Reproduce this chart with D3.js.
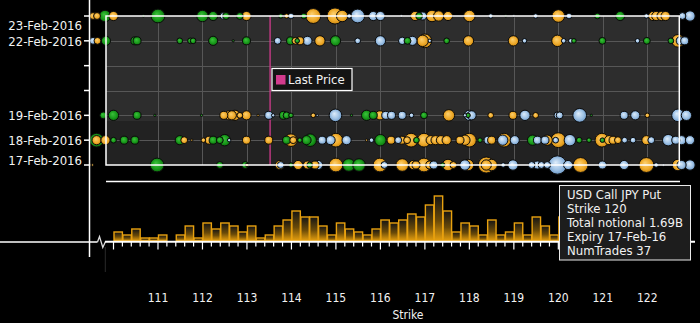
<!DOCTYPE html>
<html><head><meta charset="utf-8">
<script src="https://cdn.jsdelivr.net/npm/d3@7"></script>
<style>
body{margin:0;background:#000;}
svg{display:block;}
text{font-family:"DejaVu Sans Condensed","DejaVu Sans",sans-serif;font-stretch:condensed;fill:#f2f2f2;}
</style>
</head><body>
<svg id="chart" width="700" height="323"></svg>
<script>
// ---------------- DATA ----------------
const dateLabels = ["23-Feb-2016","22-Feb-2016","19-Feb-2016","18-Feb-2016","17-Feb-2016"];
const dayTicks = ["17-Feb-2016","18-Feb-2016","19-Feb-2016","20-Feb-2016","21-Feb-2016","22-Feb-2016","23-Feb-2016"];
const strikeTicks = [111,112,113,114,115,116,117,118,119,120,121,122];
const lastPrice = 113.52;
const legendLabel = "Last Price";
const xTitle = "Strike";
const tooltipLines = ["USD Call JPY Put","Strike 120","Total notional 1.69B","Expiry 17-Feb-16","NumTrades 37"];

// trades: [strike, notional (USD m), type]  o = USD Put JPY Call, b = USD Call JPY Put, g = other
const trades23 = [[109.54,238,"o"],[109.63,238,"o"],[109.81,660,"g"],[110.00,423,"o"],[110.67,26,"g"],[111.00,951,"g"],[112.00,660,"g"],[112.24,423,"g"],[112.47,238,"b"],[112.53,238,"g"],[112.84,238,"g"],[112.99,423,"o"],[113.76,106,"g"],[113.89,106,"o"],[113.99,165,"b"],[114.28,165,"g"],[114.49,1116,"o"],[114.98,1294,"o"],[115.14,660,"o"],[115.30,106,"b"],[115.49,951,"b"],[115.84,423,"b"],[116.00,423,"b"],[116.47,26,"b"],[116.78,423,"o"],[116.87,238,"g"],[116.95,323,"b"],[117.16,660,"o"],[117.31,535,"o"],[117.52,423,"o"],[118.00,660,"o"],[118.48,106,"b"],[118.82,26,"g"],[119.00,26,"b"],[119.49,106,"b"],[120.00,799,"o"],[120.24,165,"b"],[120.88,165,"g"],[121.39,423,"g"],[121.98,106,"b"],[122.13,423,"o"],[122.20,423,"o"],[122.32,423,"o"],[122.41,423,"o"],[122.79,238,"b"],[122.96,535,"b"]];
const trades22 = [[109.54,238,"b"],[109.64,238,"o"],[109.83,423,"g"],[110.48,323,"g"],[110.53,323,"g"],[111.49,165,"g"],[111.73,165,"g"],[111.79,165,"g"],[112.24,423,"g"],[112.69,26,"g"],[112.99,323,"g"],[113.69,238,"b"],[113.98,323,"g"],[114.09,238,"o"],[114.13,106,"g"],[114.19,323,"o"],[114.36,423,"b"],[114.64,535,"o"],[114.99,535,"g"],[115.49,165,"b"],[116.00,535,"b"],[116.49,280,"b"],[116.61,238,"g"],[116.72,423,"b"],[117.00,951,"o"],[116.95,660,"o"],[117.11,59,"b"],[117.49,165,"g"],[117.98,535,"o"],[118.99,535,"o"],[119.24,106,"b"],[119.98,660,"o"],[120.12,106,"b"],[120.28,106,"b"],[120.35,106,"g"],[120.99,238,"g"],[121.78,106,"b"],[121.99,238,"g"],[122.53,165,"g"],[122.69,799,"o"],[122.74,323,"b"],[122.84,323,"b"]];
const trades19 = [[109.77,238,"g"],[110.00,535,"g"],[110.53,323,"g"],[110.93,26,"g"],[111.98,26,"g"],[112.48,323,"o"],[112.60,423,"o"],[112.66,423,"o"],[112.73,535,"o"],[112.84,165,"o"],[112.99,423,"o"],[113.25,26,"o"],[113.49,323,"b"],[113.59,59,"b"],[113.82,323,"g"],[113.89,238,"g"],[113.99,106,"g"],[114.49,106,"o"],[114.58,26,"b"],[114.99,799,"b"],[115.35,26,"g"],[115.69,535,"g"],[115.84,323,"g"],[115.99,423,"o"],[116.12,323,"b"],[116.25,323,"b"],[116.49,323,"b"],[116.70,106,"b"],[116.98,238,"g"],[117.54,660,"o"],[117.90,59,"b"],[118.00,535,"b"],[117.97,106,"g"],[118.05,423,"b"],[118.48,165,"o"],[118.98,323,"o"],[119.25,535,"b"],[119.49,165,"o"],[119.98,238,"b"],[120.03,238,"b"],[120.48,951,"b"],[120.74,26,"g"],[121.48,323,"b"],[121.73,423,"b"],[122.00,106,"o"],[122.69,799,"b"],[122.88,535,"b"]];
const trades18 = [[109.62,951,"g"],[109.62,423,"o"],[109.82,423,"o"],[110.00,165,"g"],[110.24,323,"g"],[110.48,323,"g"],[111.49,423,"g"],[111.59,238,"o"],[111.76,26,"o"],[112.02,106,"o"],[112.15,323,"o"],[112.24,323,"g"],[112.39,238,"g"],[112.50,660,"g"],[112.60,59,"b"],[112.99,323,"o"],[113.49,323,"o"],[113.89,323,"g"],[113.99,799,"o"],[114.04,238,"o"],[114.19,106,"g"],[114.34,423,"g"],[114.42,799,"g"],[114.69,323,"b"],[114.88,423,"b"],[115.00,951,"o"],[115.24,423,"b"],[115.69,26,"o"],[115.80,106,"b"],[116.00,660,"g"],[116.24,323,"o"],[116.40,238,"b"],[116.48,323,"o"],[116.60,238,"o"],[116.69,951,"o"],[116.81,165,"g"],[116.98,951,"o"],[117.13,423,"o"],[117.24,423,"o"],[117.36,423,"o"],[117.49,423,"o"],[117.79,323,"o"],[117.90,535,"o"],[118.00,951,"o"],[118.24,106,"g"],[118.42,323,"b"],[118.50,323,"o"],[118.78,951,"o"],[118.75,535,"b"],[119.02,423,"b"],[119.42,535,"g"],[119.53,323,"b"],[119.70,323,"b"],[119.75,535,"o"],[119.94,165,"b"],[120.00,1116,"o"],[120.26,660,"b"],[120.47,165,"g"],[120.69,106,"g"],[120.98,951,"o"],[120.99,106,"g"],[121.14,423,"o"],[121.23,323,"o"],[121.34,238,"o"],[121.49,165,"b"],[121.68,165,"b"],[121.98,423,"o"],[122.09,238,"b"],[122.47,660,"b"],[122.64,323,"b"],[122.77,423,"b"],[122.96,423,"b"]];
const trades17 = [[109.47,26,"o"],[109.53,26,"o"],[110.98,951,"g"],[112.39,238,"g"],[112.96,238,"g"],[113.00,59,"o"],[113.74,423,"o"],[113.76,238,"b"],[113.99,106,"g"],[114.15,423,"o"],[114.36,323,"o"],[114.41,165,"g"],[114.53,323,"o"],[114.60,423,"b"],[115.00,951,"o"],[115.29,799,"g"],[115.52,799,"g"],[115.99,951,"o"],[116.09,238,"b"],[116.49,799,"o"],[116.74,423,"o"],[116.80,323,"o"],[116.98,951,"o"],[117.11,323,"o"],[117.20,323,"b"],[117.40,106,"g"],[117.52,660,"o"],[117.64,238,"o"],[117.90,535,"b"],[117.97,660,"o"],[118.38,1294,"o"],[118.38,535,"o"],[118.50,660,"o"],[118.76,106,"b"],[118.98,535,"b"],[119.40,238,"b"],[119.53,323,"b"],[119.62,238,"b"],[119.75,238,"b"],[119.98,1690,"b"],[120.22,423,"b"],[120.50,1116,"o"],[120.99,323,"b"],[121.48,423,"b"],[121.98,1116,"o"],[122.20,106,"b"],[122.36,26,"b"],[122.69,660,"o"],[122.77,423,"b"],[122.96,535,"b"]];

// histogram: number of trades per 0.2 strike bin
const binStarts = [110.0,110.2,110.4,110.6,110.8,111.0,111.2,111.4,111.6,111.8,112.0,112.2,112.4,112.6,112.8,113.0,113.2,113.4,113.6,113.8,114.0,114.2,114.4,114.6,114.8,115.0,115.2,115.4,115.6,115.8,116.0,116.2,116.4,116.6,116.8,117.0,117.2,117.4,117.6,117.8,118.0,118.2,118.4,118.6,118.8,119.0,119.2,119.4,119.6,119.8,120.0,120.2,120.4,120.6,120.8,121.0,121.2,121.4,121.6,121.8,122.0,122.2,122.4];
const binCounts = [3,2,4,1,1,2,0,2,5,1,6,4,6,5,3,5,1,2,5,7,10,8,8,5,2,6,4,3,2,4,7,6,7,9,8,12,15,10,3,6,5,2,7,2,3,6,2,8,5,2,8,4,6,3,2,5,3,3,2,4,4,3,4];

// ---------------- CHART ----------------
const svg = d3.select("#chart");
const parse = d3.timeParse("%d-%b-%Y");
const x = d3.scaleLinear().domain([110,122]).range([113.5,647.3]);
const y = d3.scaleTime().domain([parse("17-Feb-2016"), parse("23-Feb-2016")]).range([165,16]);
const r = d3.scaleSqrt().domain([0,1690]).range([0,9.2]);
const yH = d3.scaleLinear().domain([0,15]).range([241,196]);
const plotL = 106, plotR = 679.3, plotT = y.range()[1], plotB = y.range()[0];

const defs = svg.append("defs");
const grads = {
  o: ["#fcd070","#efab2c","#c7830a"],
  b: ["#deedfb","#9cc0e4","#6592c2"],
  g: ["#3cc23c","#199a1b","#0a650a"]
};
Object.entries(grads).forEach(([k,c])=>{
  const g = defs.append("radialGradient").attr("id","bg_"+k).attr("cx","50%").attr("cy","50%").attr("r","55%").attr("fx","40%").attr("fy","36%");
  g.append("stop").attr("offset","0%").attr("stop-color",c[0]);
  g.append("stop").attr("offset","62%").attr("stop-color",c[1]);
  g.append("stop").attr("offset","100%").attr("stop-color",c[2]);
});
const hg = defs.append("linearGradient").attr("id","histGrad").attr("x1",0).attr("y1",0).attr("x2",0).attr("y2",1);
hg.append("stop").attr("offset","0%").attr("stop-color","#141414");
hg.append("stop").attr("offset","55%").attr("stop-color","#6a4a08");
hg.append("stop").attr("offset","100%").attr("stop-color","#e8a10f");

// plot background bands
const split = 121;
svg.append("rect").attr("x",plotL).attr("y",plotT).attr("width",plotR-plotL).attr("height",split-plotT).attr("fill","#2d2d2d");
svg.append("rect").attr("x",plotL).attr("y",split).attr("width",plotR-plotL).attr("height",plotB-split).attr("fill","#222222");

// gridlines
const gridG = svg.append("g").attr("stroke","#575757").attr("stroke-width",1);
gridG.selectAll("line.v").data(strikeTicks).join("line")
  .attr("x1",d=>Math.round(x(d))+0.5).attr("x2",d=>Math.round(x(d))+0.5).attr("y1",plotT).attr("y2",plotB);
gridG.selectAll("line.h").data(dayTicks.slice(1,6)).join("line")
  .attr("x1",plotL).attr("x2",plotR).attr("y1",d=>Math.round(y(parse(d)))+0.5).attr("y2",d=>Math.round(y(parse(d)))+0.5);

// last price line
svg.append("line").attr("x1",x(lastPrice)).attr("x2",x(lastPrice)).attr("y1",plotT).attr("y2",plotB)
  .attr("stroke","#d23b8e").attr("stroke-width",1.3);

// bubbles
const rows = [["23-Feb-2016",trades23],["22-Feb-2016",trades22],["19-Feb-2016",trades19],["18-Feb-2016",trades18],["17-Feb-2016",trades17]];
const bubbleG = svg.append("g");
rows.forEach(([dt,arr])=>{
  const cy = y(parse(dt));
  const sorted = arr.slice().sort((a,b)=>b[1]-a[1]);
  bubbleG.append("g").selectAll("circle").data(sorted).join("circle")
    .attr("cx",d=>x(d[0])).attr("cy",cy).attr("r",d=>r(d[1]))
    .attr("fill",d=>"url(#bg_"+d[2]+")")
    .attr("stroke","#0b0b0b").attr("stroke-width",1);
});

// plot border
svg.append("rect").attr("x",plotL).attr("y",plotT).attr("width",plotR-plotL).attr("height",plotB-plotT)
  .attr("fill","none").attr("stroke","#ffffff").attr("stroke-width",1.5);

// left axis
svg.append("line").attr("x1",89.5).attr("x2",89.5).attr("y1",0).attr("y2",257).attr("stroke","#fff").attr("stroke-width",1.5);
svg.selectAll("line.dt").data(dayTicks).join("line")
  .attr("x1",84).attr("x2",89.5).attr("y1",d=>y(parse(d))).attr("y2",d=>y(parse(d))).attr("stroke","#fff").attr("stroke-width",1.5);
svg.selectAll("text.dl").data(dateLabels).join("text")
  .attr("x",82).attr("y",d=>Math.max(25,Math.min(160,y(parse(d))))).attr("dy","0.36em")
  .attr("text-anchor","end").style("font-size","13px").text(d=>d);

// legend
const lg = svg.append("g");
lg.append("rect").attr("x",272).attr("y",68.5).attr("width",80).attr("height",22).attr("fill","#141414").attr("stroke","#fff").attr("stroke-width",1.2);
lg.append("rect").attr("x",276).attr("y",75).attr("width",9.5).attr("height",9.5).attr("fill","#d23b8e");
lg.append("text").attr("x",288).attr("y",84.3).style("font-size","13px").text(legendLabel);

// histogram panel
svg.append("line").attr("x1",plotL).attr("x2",680).attr("y1",181.5).attr("y2",181.5).attr("stroke","#fff").attr("stroke-width",1.5);
const bins = binStarts.map((b,i)=>({s:b,c:binCounts[i]}));
svg.append("g").selectAll("rect").data(bins.filter(d=>d.c>0)).join("rect")
  .attr("x",d=>x(d.s)+0.5).attr("width",d=>x(d.s+0.2)-x(d.s)-0.5)
  .attr("y",d=>yH(d.c)).attr("height",d=>yH(0)-yH(d.c))
  .attr("fill","url(#histGrad)").attr("stroke","#e8a10f").attr("stroke-width",1.4);

// bottom axis with break
svg.append("line").attr("x1",0).attr("x2",97.5).attr("y1",242).attr("y2",242).attr("stroke","#fff").attr("stroke-width",1.5);
svg.append("path").attr("d","M97.5,242 L99.5,236.5 L102.8,247.5 L105.5,241.5").attr("fill","none").attr("stroke","#ddd").attr("stroke-width",1.3);
svg.append("line").attr("x1",105.3).attr("x2",105.3).attr("y1",247).attr("y2",272).attr("stroke","#2a2a2a").attr("stroke-width",1);
svg.append("line").attr("x1",105).attr("x2",695).attr("y1",241.8).attr("y2",241.8).attr("stroke","#fff").attr("stroke-width",2);
const minor = d3.range(0,65).map(i=>110+i*0.2);
svg.append("g").selectAll("line").data(minor).join("line")
  .attr("x1",d=>x(d)).attr("x2",d=>x(d)).attr("y1",242)
  .attr("y2",d=>Math.abs(d-Math.round(d))<1e-6?249.5:246.5)
  .attr("stroke","#fff").attr("stroke-width",1.2);
svg.selectAll("text.xt").data(strikeTicks).join("text")
  .attr("x",d=>x(d)).attr("y",298).attr("dy","0.36em").attr("text-anchor","middle")
  .style("font-size","12px").text(d=>d);
svg.append("text").attr("x",408).attr("y",315).attr("dy","0.36em").attr("text-anchor","middle")
  .style("font-size","12px").text(xTitle);

// tooltip
const tt = svg.append("g");
tt.append("rect").attr("x",559.5).attr("y",185.5).attr("width",131).attr("height",74.5)
  .attr("fill","#1d1d1d").attr("stroke","#eaeaea").attr("stroke-width",1);
tt.selectAll("text").data(tooltipLines).join("text")
  .attr("x",567).attr("y",(d,i)=>199+i*14).style("font-size","13px").text(d=>d);
</script>
</body></html>
